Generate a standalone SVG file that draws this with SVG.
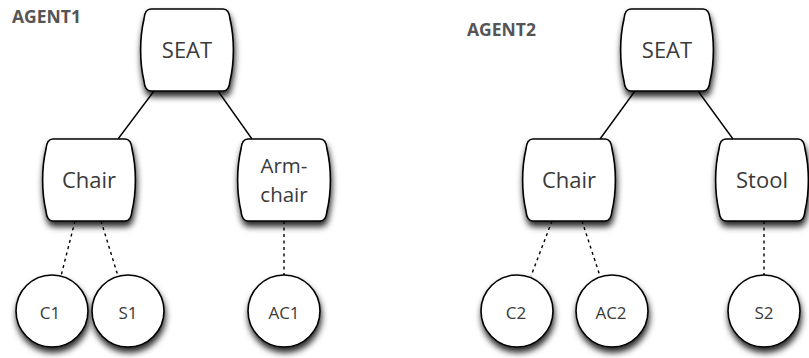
<svg xmlns="http://www.w3.org/2000/svg" width="809" height="358" viewBox="0 0 809 358">
  <style>
    .node { fill: #fff; stroke: #000; stroke-width: 1.6; filter: url(#shadow); }
    .lbl { font-family: "Open Sans", Lato, sans-serif; font-size: 22px; fill: #3a3a3a; text-anchor: middle; }
    .two { font-size: 20.5px; }
    .small { font-size: 17px; }
    .agent { font-family: "Open Sans", Lato, sans-serif; font-size: 17.5px; font-weight: bold; fill: #555; }
    .edge { stroke: #000; stroke-width: 1.4; fill: none; }
    .dash { stroke-dasharray: 3 3.5; }
  </style>
  <defs>
    <filter id="shadow" x="-30%" y="-30%" width="160%" height="170%">
      <feGaussianBlur in="SourceAlpha" stdDeviation="3"/>
      <feOffset dx="1" dy="5" result="b"/>
      <feFlood flood-color="#000" flood-opacity="0.85"/>
      <feComposite in2="b" operator="in"/>
      <feMerge>
        <feMergeNode/>
        <feMergeNode in="SourceGraphic"/>
      </feMerge>
    </filter>
    <!-- barrel-shaped box: flat top/bottom, outward-bulging sides, 94 x 82 -->
    <path id="barrel" d="M -36,-41 H 36 C 41,-41 42.5,-37 43,-31 C 47.5,-12 47.5,12 43,31 C 42.5,37 41,41 36,41 H -36 C -41,41 -42.5,37 -43,31 C -47.5,12 -47.5,-12 -43,-31 C -42.5,-37 -41,-41 -36,-41 Z"/>
  </defs>

  <text class="agent" x="12" y="23">AGENT1</text>
  <text class="agent" x="467" y="36">AGENT2</text>

  <g id="connectors">
    <line class="edge" x1="154" y1="91" x2="118" y2="139"/>
    <line class="edge" x1="218" y1="91" x2="252" y2="139"/>
    <line class="edge dash" x1="75" y1="221" x2="61" y2="276"/>
    <line class="edge dash" x1="101" y1="221" x2="118" y2="276"/>
    <line class="edge dash" x1="284" y1="221" x2="284" y2="275"/>
    <line class="edge" x1="635" y1="91" x2="600" y2="139"/>
    <line class="edge" x1="698" y1="91" x2="733" y2="139"/>
    <line class="edge dash" x1="552" y1="221" x2="531" y2="276"/>
    <line class="edge dash" x1="582" y1="221" x2="600" y2="276"/>
    <line class="edge dash" x1="764" y1="221" x2="764" y2="275"/>
  </g>

  <g id="seat1"><use href="#barrel" class="node" transform="translate(187,50)"/><text class="lbl" x="187" y="58">SEAT</text></g>
  <g id="chair1"><use href="#barrel" class="node" transform="translate(89,180)"/><text class="lbl" x="89" y="188">Chair</text></g>
  <g id="armchair1"><use href="#barrel" class="node" transform="translate(284,180)"/><text class="lbl two"><tspan x="284" y="173">Arm-</tspan><tspan x="284" y="201.5">chair</tspan></text></g>
  <g id="c1"><circle class="node" cx="52" cy="311" r="36"/><text class="lbl small" x="50" y="319">C1</text></g>
  <g id="s1"><circle class="node" cx="128" cy="311" r="36"/><text class="lbl small" x="128" y="319">S1</text></g>
  <g id="ac1"><circle class="node" cx="284" cy="311" r="36"/><text class="lbl small" x="284" y="319">AC1</text></g>

  <g id="seat2"><use href="#barrel" class="node" transform="translate(667,50)"/><text class="lbl" x="667" y="58">SEAT</text></g>
  <g id="chair2"><use href="#barrel" class="node" transform="translate(569,180)"/><text class="lbl" x="569" y="188">Chair</text></g>
  <g id="stool2"><use href="#barrel" class="node" transform="translate(762,180)"/><text class="lbl" x="762" y="188">Stool</text></g>
  <g id="c2"><circle class="node" cx="517" cy="311" r="36"/><text class="lbl small" x="516" y="319">C2</text></g>
  <g id="ac2"><circle class="node" cx="612" cy="311" r="36"/><text class="lbl small" x="611" y="319">AC2</text></g>
  <g id="s2"><circle class="node" cx="764" cy="311" r="36"/><text class="lbl small" x="764" y="319">S2</text></g>
</svg>
